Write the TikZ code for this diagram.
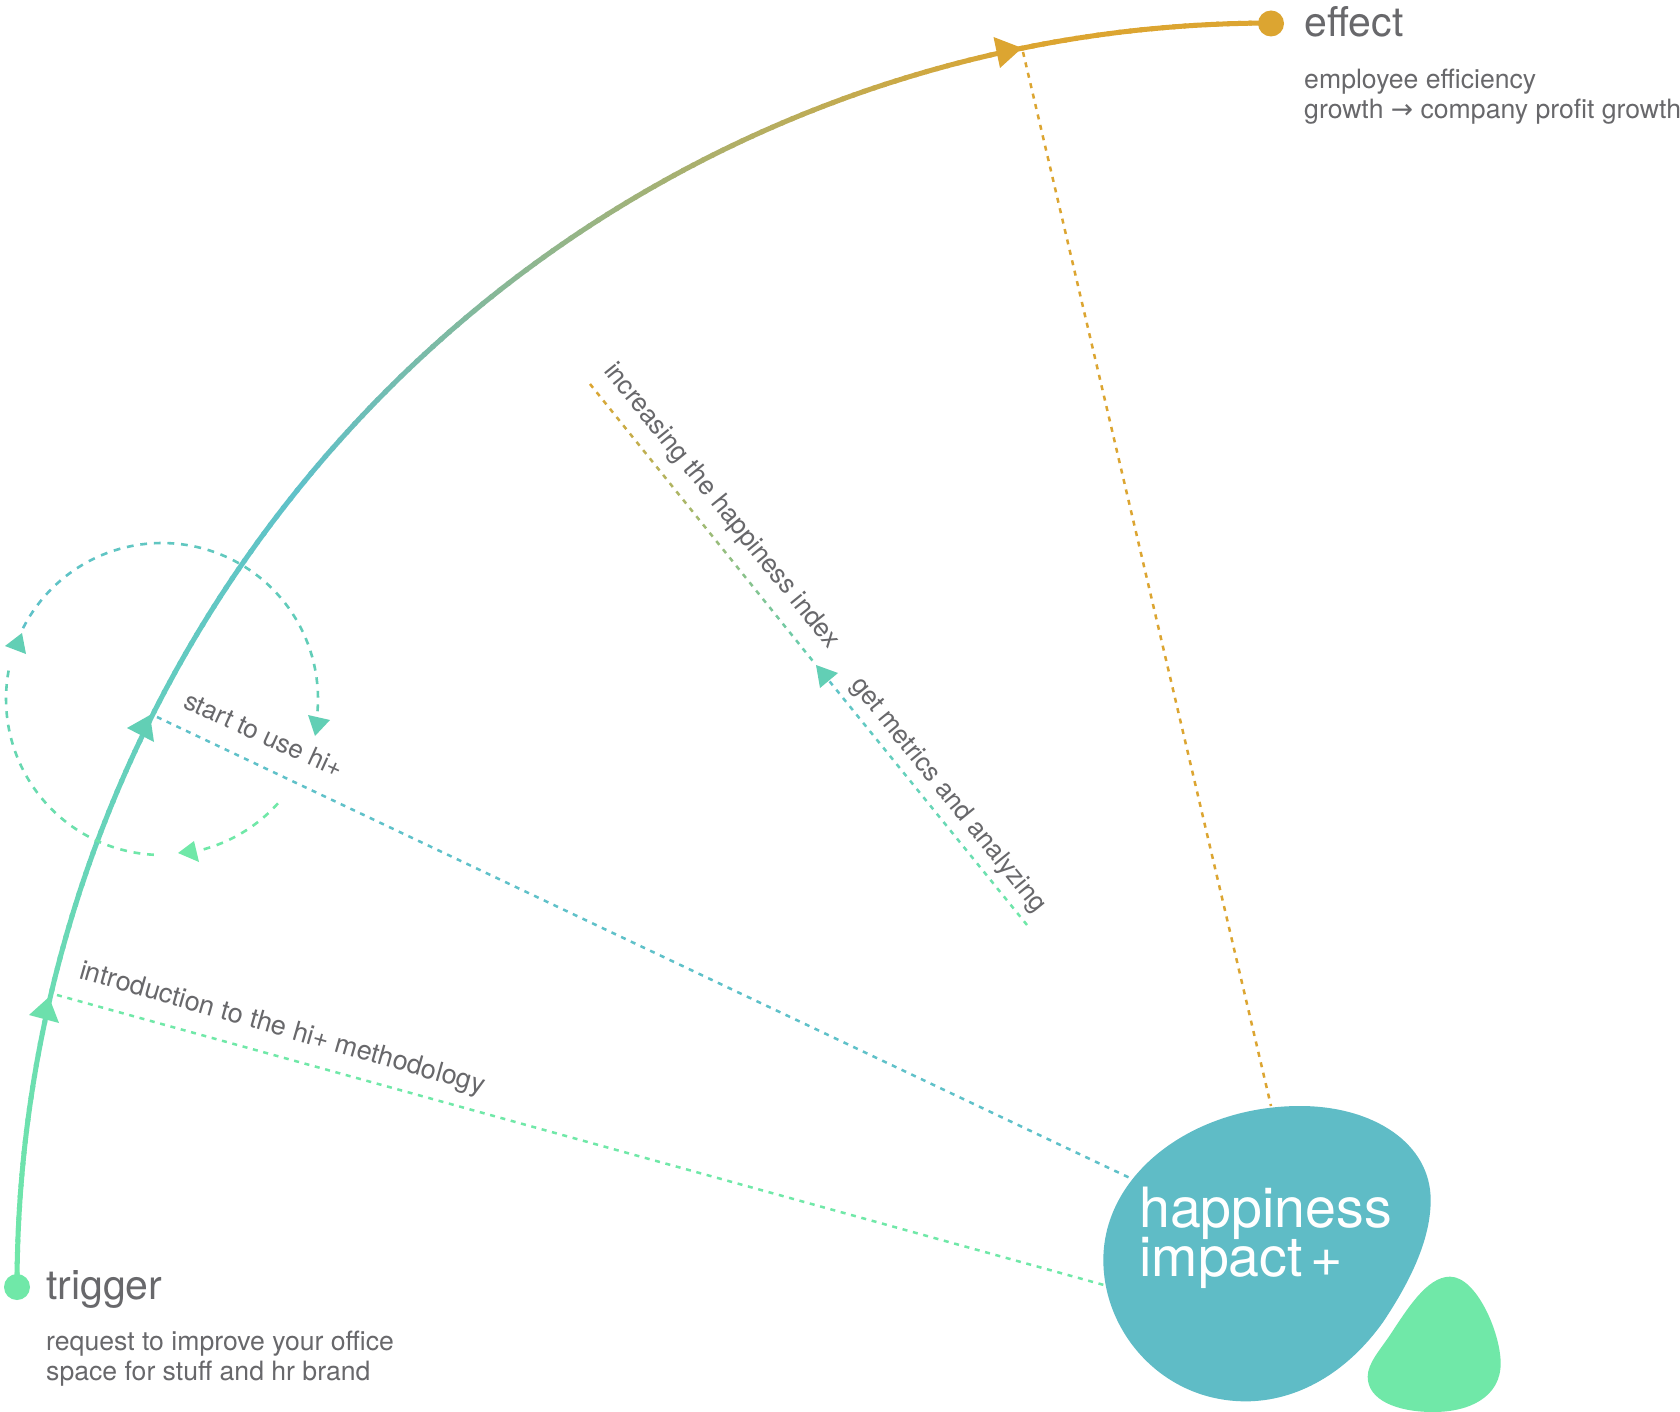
\documentclass[tikz,border=0pt]{standalone}
\usepackage{fontspec}
\setmainfont{TeX Gyre Heros}
\newfontfamily\arrowfont{DejaVu Sans}
\usetikzlibrary{calc}
\definecolor{cgreen}{HTML}{70E8A8}
\definecolor{cteal}{HTML}{5FC1C9}
\definecolor{cgold}{HTML}{DCA531}
\definecolor{cmint}{HTML}{62CFB5}
\definecolor{ctext}{HTML}{68686B}
\definecolor{cblob}{HTML}{5FBCC6}
\tikzset{
  x=1pt,y=-1pt,
  dot/.style={circle,inner sep=0pt,minimum size=26pt},
  headtext/.style={anchor=base west,inner sep=0pt,text=ctext,font=\fontsize{41}{41}\selectfont},
  bodytext/.style={anchor=north west,inner sep=0pt,text=ctext,align=left,font=\fontsize{26.6}{30.5}\selectfont},
  labeltext/.style={anchor=base west,inner sep=0pt,text=ctext,font=\fontsize{26}{30}\selectfont},
  dashline/.style={line width=2.5pt,dash pattern=on 5pt off 5.7pt},
  circdash/.style={line width=2.6pt,line cap=butt},
  tip/.style={fill=#1,draw=none}
}
\begin{document}
\begin{tikzpicture}
\useasboundingbox (0,0) rectangle (1680,1412);
\fill[white] (0,0) rectangle (1680,1412);
% named points
\coordinate (tipA) at (49,997);
\coordinate (tipB) at (150,715);
\coordinate (tipC) at (1022,48);
\coordinate (tipD) at (816,665);
\coordinate (startA) at (57,995);
\coordinate (startB) at (157,717);
\coordinate (startC) at (1023,52);
\coordinate (endA) at (1104,1285);
\coordinate (endB) at (1130,1178);
\coordinate (endC) at (1271,1106);
\coordinate (incTop) at (590,384);
\coordinate (getBot) at (1027,925);
\coordinate (getTop) at (826,677);
% main gradient arc
\foreach \i in {0,...,179}{
  \pgfmathsetmacro\a{\i*0.5}
  \pgfmathsetmacro\b{\a+0.62}
  \ifdim\a pt<39pt
    \pgfmathsetmacro\m{\a/39*100}
    \colorlet{cc}{cteal!\m!cgreen}
  \else
    \pgfmathsetmacro\m{min(100,(\a-39)/39*100)}
    \colorlet{cc}{cgold!\m!cteal}
  \fi
  \draw[cc,line width=5pt] ({1271-1254*cos(\a)},{1286-1263*sin(\a)}) -- ({1271-1254*cos(min(\b,90))},{1286-1263*sin(min(\b,90))});
}
% straight dashed connectors
\draw[cgreen,dashline] (startA) -- (endA);
\draw[cteal,dashline] (startB) -- (endB);
\draw[cgold,dashline] (startC) -- (endC);
% increasing line with gradient dashes
\foreach \i in {0,...,33}{
  \pgfmathsetmacro\s{\i/34}
  \pgfmathsetmacro\e{(\i+0.46)/34}
  \pgfmathsetmacro\m{\s*100}
  \colorlet{cc}{cmint!\m!cgold}
  \draw[cc,line width=2.5pt] ($(incTop)!\s!(tipD)$) -- ($(incTop)!\e!(tipD)$);
}
\foreach \i in {0,...,29}{
  \pgfmathsetmacro\s{\i/30}
  \pgfmathsetmacro\e{(\i+0.46)/30}
  \pgfmathsetmacro\m{\s*100}
  \colorlet{cc}{cteal!\m!cgreen}
  \draw[cc,line width=2.5pt] ($(getBot)!\s!(getTop)$) -- ($(getBot)!\e!(getTop)$);
}
% loop circle, upper part
\foreach \i in {0,...,31}{
  \pgfmathsetmacro\a{153-\i*5}
  \pgfmathsetmacro\b{\a-2.5}
  \pgfmathsetmacro\m{\i/31*100}
  \colorlet{cc}{cmint!\m!cteal}
  \draw[cc,circdash] ({162+156*cos(\a)},{699-156*sin(\a)}) -- ({162+156*cos(\b)},{699-156*sin(\b)});
}
% loop circle, lower left part
\foreach \i in {0,...,19}{
  \pgfmathsetmacro\a{267-\i*5}
  \pgfmathsetmacro\b{\a-2.5}
  \pgfmathsetmacro\m{\i/19*100}
  \colorlet{cc}{cmint!\m!cgreen}
  \draw[cc,circdash] ({162+156*cos(\a)},{699-156*sin(\a)}) -- ({162+156*cos(\b)},{699-156*sin(\b)});
}
% loop circle, short lower right part
\foreach \i in {0,...,6}{
  \pgfmathsetmacro\a{318-\i*5}
  \pgfmathsetmacro\b{\a-2.5}
  \draw[cgreen,circdash] ({162+156*cos(\a)},{699-156*sin(\a)}) -- ({162+156*cos(\b)},{699-156*sin(\b)});
}
% arrow heads
\fill[tip=cgreen!70!cmint] (tipA) -- (59,1023) -- (29,1015) -- cycle;
\fill[tip=cmint] (tipB) -- (154,742) -- (127,728) -- cycle;
\fill[tip=cgold] (tipC) -- (1000,68) -- (993.5,37) -- cycle;
\fill[tip=cmint] (tipD) -- (838,673) -- (820,688) -- cycle;
\fill[tip=cmint] (22,633) -- (26,654) -- (5,646) -- cycle;
\fill[tip=cmint] (315,736) -- (308,715) -- (330,720) -- cycle;
\fill[tip=cgreen] (178,853) -- (194,841) -- (199,862) -- cycle;
% blobs
\fill[cblob] ($(1080,1080)+(660/3,78/3)$)
  .. controls ($(1080,1080)+(880/3,78/3)$) and ($(1080,1080)+(1052/3,190/3)$) .. ($(1080,1080)+(1052/3,360/3)$)
  .. controls ($(1080,1080)+(1052/3,470/3)$) and ($(1080,1080)+(1000/3,590/3)$) .. ($(1080,1080)+(910/3,725/3)$)
  .. controls ($(1080,1080)+(800/3,880/3)$) and ($(1080,1080)+(650/3,964/3)$) .. ($(1080,1080)+(497/3,964/3)$)
  .. controls ($(1080,1080)+(250/3,964/3)$) and ($(1080,1080)+(70/3,760/3)$) .. ($(1080,1080)+(70/3,540/3)$)
  .. controls ($(1080,1080)+(70/3,280/3)$) and ($(1080,1080)+(340/3,78/3)$) .. cycle;
\fill[cgreen] ($(1080,1080)+(1110/3,590/3)$)
  .. controls ($(1080,1080)+(1190/3,590/3)$) and ($(1080,1080)+(1262/3,760/3)$) .. ($(1080,1080)+(1262/3,850/3)$)
  .. controls ($(1080,1080)+(1262/3,950/3)$) and ($(1080,1080)+(1170/3,996/3)$) .. ($(1080,1080)+(1060/3,996/3)$)
  .. controls ($(1080,1080)+(950/3,996/3)$) and ($(1080,1080)+(863/3,960/3)$) .. ($(1080,1080)+(863/3,890/3)$)
  .. controls ($(1080,1080)+(863/3,850/3)$) and ($(1080,1080)+(900/3,810/3)$) .. ($(1080,1080)+(930/3,765/3)$)
  .. controls ($(1080,1080)+(980/3,690/3)$) and ($(1080,1080)+(1040/3,590/3)$) .. cycle;
% end dots
\node[dot,fill=cgreen] (trigger) at (17,1287) {};
\node[dot,fill=cgold] (effect) at (1271,23.5) {};
% texts
\node[headtext] (triggerT) at (46,1299) {trigger};
\node[bodytext] (triggerB) at (46,1330.5) {request to improve your office\\space for stuff and hr brand};
\node[headtext] (effectT) at (1304,37) {effect};
\node[bodytext] (effectB) at (1304,68.5) {employee efficiency\\growth {\arrowfont→} company profit growth};
\node[anchor=base west,inner sep=0pt,text=white,font=\fontsize{55.5}{55}\selectfont] (hiA) at (1139,1227) {happiness};
\node[anchor=base west,inner sep=0pt,text=white,font=\fontsize{55.5}{55}\selectfont] (hiB) at (1139,1276) {impact\hspace{8pt}+};
\node[labeltext,rotate=-16,font=\fontsize{27}{30}\selectfont] (lblA) at (78,978) {introduction to the hi+ methodology};
\node[labeltext,rotate=-24.5] (lblB) at (182,707) {start to use hi+};
\node[labeltext,rotate=-51,font=\fontsize{26.2}{30}\selectfont] (lblC) at (603,371) {increasing the happiness index};
\node[labeltext,rotate=-51,font=\fontsize{26}{30}\selectfont] (lblD) at (850,685) {get metrics and analyzing};
\end{tikzpicture}
\end{document}
